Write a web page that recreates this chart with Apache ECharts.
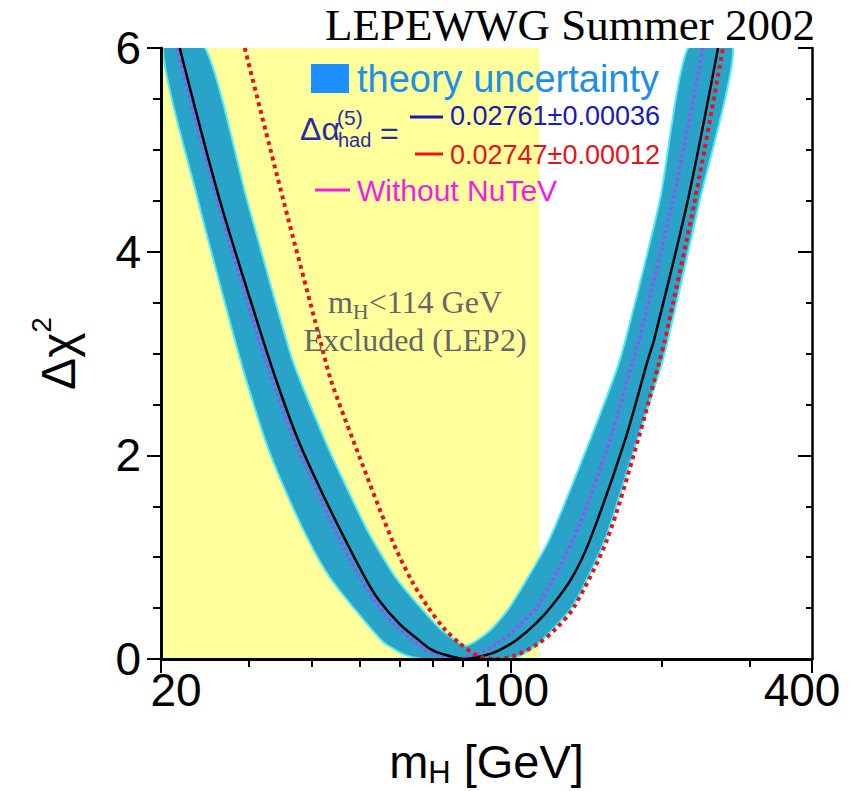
<!DOCTYPE html>
<html>
<head>
<meta charset="utf-8">
<title>LEPEWWG Summer 2002 - Δχ² vs mH</title>
<script src="https://cdn.jsdelivr.net/npm/echarts@6/dist/echarts.min.js"></script>
<style>
  html, body { margin: 0; padding: 0; background: #fff; }
  #chart { width: 863px; height: 791px; }
</style>
</head>
<body>
<div id="chart"></div>
<script>
// values: mH in GeV, Δχ² dimensionless

// Δα(5)had = 0.02761±0.00036 (solid black)
const blackMass = [21.8, 26.2, 32.0, 34.7, 37.6, 40.8, 45.6, 51.4, 54.5, 59.8, 65.3, 69.0, 72.9, 81.0, 90.9, 96.0, 102.9, 112.3, 120.3, 132.6, 144.0, 169.2, 188.0, 193.3, 226.0, 259.6]
const blackChi2 = [6.0, 4.51, 3.13, 2.61, 2.15, 1.76, 1.27, 0.78, 0.58, 0.35, 0.19, 0.10, 0.05, 0.0, 0.05, 0.10, 0.19, 0.35, 0.51, 0.80, 1.17, 2.15, 2.94, 3.13, 4.51, 6.0]

// without NuTeV (dotted violet)
const nutevMass = [21.5, 25.9, 31.4, 34.1, 36.9, 40.1, 44.5, 50.2, 53.3, 58.2, 63.5, 67.1, 70.6, 77.4, 86.0, 90.1, 96.5, 104.8, 112.8, 133.2, 157.9, 175.5, 180.4, 211.0, 242.2]
const nutevChi2 = [6.0, 4.51, 3.13, 2.61, 2.15, 1.76, 1.27, 0.78, 0.58, 0.35, 0.19, 0.10, 0.05, 0.0, 0.05, 0.10, 0.19, 0.35, 0.51, 1.17, 2.15, 2.94, 3.13, 4.51, 6.0]

// Δα(5)had = 0.02747±0.00012 (dotted red)
const redMass = [29.4, 35.1, 41.6, 43.7, 48.4, 57.9, 63.2, 68.3, 73.6, 79.2, 86.0, 93.4, 101.5, 113.4, 123.2, 133.8, 155.7, 179.6, 198.7, 203.3, 233.4, 265.6]
const redChi2 = [6.0, 4.51, 3.13, 2.74, 2.15, 1.17, 0.78, 0.51, 0.30, 0.15, 0.03, 0.0, 0.03, 0.15, 0.30, 0.51, 1.17, 2.15, 2.94, 3.13, 4.51, 6.0]

// theory uncertainty band, outline in four pieces
const bandOuterLeftMass = [20.2, 23.7, 28.8, 32.3, 35.4, 39.4, 43.5, 48.4, 55.5, 61.5, 66.8]
const bandOuterLeftChi2 = [6.0, 4.51, 2.94, 2.15, 1.66, 1.17, 0.80, 0.51, 0.17, 0.04, 0.0]
const bandOuterRightMass = [97.4, 104.3, 113.4, 132.6, 154.3, 178.8, 201.5, 238.9, 278.1]
const bandOuterRightChi2 = [0.0, 0.03, 0.15, 0.51, 1.17, 2.15, 2.94, 4.51, 6.0]
const bandInnerRightMass = [226.0, 198.7, 165.3, 144.0, 119.3, 99.6, 90.9, 81.4]
const bandInnerRightChi2 = [6.0, 4.51, 2.94, 2.15, 1.17, 0.51, 0.28, 0.13]
const bandInnerLeftMass = [72.9, 65.9, 59.3, 56.6, 51.6, 46.2, 42.5, 36.6, 29.7, 24.5]
const bandInnerLeftChi2 = [0.28, 0.51, 0.78, 0.93, 1.27, 1.76, 2.15, 2.94, 4.51, 6.0]

// LEP2 direct search exclusion
const lep2Limit = 114
const massMin = 20
const massMax = 400
const chi2Max = 6

// axis ticks
const xMajorTicks = [20, 100, 400]
const xMinorTicks = [30, 40, 50, 60, 70, 80, 90, 200, 300]

const SANS = '"Liberation Sans", Arial, Helvetica, sans-serif'
const SERIF = '"Liberation Serif", "Times New Roman", serif'

const zip = (xs, ys) => xs.map((x, i) => [x, ys[i]])

const bandOutline = [
  ...zip(bandOuterLeftMass, bandOuterLeftChi2),
  ...zip(bandOuterRightMass, bandOuterRightChi2),
  ...zip(bandInnerRightMass, bandInnerRightChi2),
  ...zip(bandInnerLeftMass, bandInnerLeftChi2)
]

const chart = echarts.init(document.getElementById('chart'), null, { renderer: 'svg' })

// shared axis pieces
const logX = (extra) => Object.assign({
  type: 'log',
  logBase: 10,
  min: massMin,
  max: massMax,
  z: 10,
  splitLine: { show: false },
  minorTick: { show: false },
  axisLabel: { show: false },
  axisLine: { show: false }
}, extra)

const linY = (extra) => Object.assign({
  type: 'value',
  min: 0,
  max: chi2Max,
  z: 10,
  splitLine: { show: false },
  axisLabel: { show: false },
  axisLine: { show: false }
}, extra)

const tickFont = { fontSize: 46, fontFamily: SANS, color: '#000' }

const option = {
  animation: false,
  backgroundColor: '#fff',
  grid: {
    left: 161,
    top: 48,
    width: 651,
    height: 611,
    outerBoundsMode: 'none'
  },
  xAxis: [
    logX({
      position: 'bottom',
      axisLine: { show: true, lineStyle: { color: '#000', width: 3 } },
      axisTick: { show: true, length: 14, lineStyle: { color: '#000', width: 2 }, customValues: xMajorTicks },
      axisLabel: {
        show: true,
        customValues: xMajorTicks,
        margin: 8,
        ...tickFont,
        // end labels sit a little inside, as in the original
        formatter: v => v === massMin ? '{l|' + v + '}' : v === massMax ? '{r|' + v + '}' : '{c|' + v + '}',
        rich: {
          l: { ...tickFont, padding: [0, 0, 0, 30] },
          r: { ...tickFont, padding: [0, 20, 0, 0] },
          c: { ...tickFont }
        }
      },
      name: '{m|m}{s|H}{m| [GeV]}',
      nameLocation: 'middle',
      nameGap: 75,
      nameMoveOverlap: false,
      nameTextStyle: {
        rich: {
          m: { fontSize: 47, fontFamily: SANS, color: '#000', lineHeight: 54, verticalAlign: 'middle' },
          s: { fontSize: 31, fontFamily: SANS, color: '#000', lineHeight: 24, verticalAlign: 'bottom' }
        }
      }
    }),
    logX({
      position: 'bottom',
      axisTick: { show: true, length: 8, lineStyle: { color: '#000', width: 2 }, customValues: xMinorTicks }
    }),
    logX({
      position: 'top',
      axisLine: { show: true, lineStyle: { color: '#000', width: 2.5 } },
      axisTick: { show: true, inside: true, length: 14, lineStyle: { color: '#000', width: 2 }, customValues: xMajorTicks }
    }),
    logX({
      position: 'top',
      axisTick: { show: true, inside: true, length: 6, lineStyle: { color: '#000', width: 2 }, customValues: xMinorTicks }
    })
  ],
  yAxis: [
    linY({
      position: 'left',
      interval: 2,
      axisLine: { show: true, lineStyle: { color: '#000', width: 3 } },
      axisTick: { show: true, length: 14, lineStyle: { color: '#000', width: 2 } },
      axisLabel: { show: true, margin: 20, ...tickFont },
      name: '{d|Δχ}{p|2}',
      nameLocation: 'middle',
      nameRotate: 90,
      nameGap: 72,
      nameMoveOverlap: false,
      nameTextStyle: {
        rich: {
          d: { fontSize: 48, fontFamily: SANS, color: '#000', lineHeight: 62, verticalAlign: 'middle' },
          p: { fontSize: 28, fontFamily: SANS, color: '#000', lineHeight: 28, verticalAlign: 'top' }
        }
      }
    }),
    linY({
      position: 'left',
      interval: 0.5,
      axisTick: { show: true, length: 8, lineStyle: { color: '#000', width: 2 } }
    }),
    linY({
      position: 'right',
      interval: 2,
      axisLine: { show: true, lineStyle: { color: '#000', width: 2.5 } },
      axisTick: { show: true, inside: true, length: 14, lineStyle: { color: '#000', width: 2 } }
    }),
    linY({
      position: 'right',
      interval: 0.5,
      axisTick: { show: true, inside: true, length: 6, lineStyle: { color: '#000', width: 2 } }
    })
  ],
  series: [
    {
      // excluded region mH < 114 GeV
      name: 'LEP2 excluded',
      type: 'line',
      data: [[massMin, chi2Max], [lep2Limit, chi2Max]],
      symbol: 'none',
      lineStyle: { width: 0 },
      areaStyle: { color: '#ffff9c', opacity: 1 },
      z: 1,
      silent: true
    },
    {
      name: 'theory uncertainty',
      type: 'custom',
      clip: true,
      z: 2,
      data: [bandOutline[0]],
      renderItem: (params, api) => ({
        type: 'polygon',
        shape: { points: bandOutline.map(p => api.coord(p)), smooth: 0.2 },
        style: { fill: '#29a3c7', stroke: '#55eaf0', lineWidth: 2 }
      })
    },
    {
      name: 'Without NuTeV',
      type: 'line',
      data: zip(nutevMass, nutevChi2),
      symbol: 'none',
      smooth: 0.3,
      z: 3,
      lineStyle: { color: '#9d4cf7', width: 3.5, type: [3, 3] }
    },
    {
      name: '0.02761±0.00036',
      type: 'line',
      data: zip(blackMass, blackChi2),
      symbol: 'none',
      smooth: 0.3,
      z: 4,
      lineStyle: { color: '#000', width: 2.5 }
    },
    {
      name: '0.02747±0.00012',
      type: 'line',
      data: zip(redMass, redChi2),
      symbol: 'none',
      smooth: 0.3,
      z: 5,
      lineStyle: { color: '#e4141c', width: 4, type: [4, 4] }
    }
  ],
  graphic: [
    // title
    { type: 'text', x: 815, y: 25, z: 100,
      style: { text: 'LEPEWWG Summer 2002', font: '45px ' + SERIF, fill: '#000', align: 'right', verticalAlign: 'middle' } },

    // legend: theory band
    { type: 'rect', z: 100, shape: { x: 311, y: 64, width: 38, height: 29 }, style: { fill: '#1e8fff' } },
    { type: 'text', x: 357, y: 79, z: 100,
      style: { text: 'theory uncertainty', font: '38px ' + SANS, fill: '#1f8fe5', verticalAlign: 'middle' } },

    // legend: Δα(5)had
    { type: 'text', x: 300, y: 129, z: 100,
      style: { text: 'Δα', font: '32px ' + SANS, fill: '#2a2aa8', verticalAlign: 'middle' } },
    { type: 'text', x: 337, y: 117, z: 100,
      style: { text: '(5)', font: '21px ' + SANS, fill: '#2a2aa8', verticalAlign: 'middle' } },
    { type: 'text', x: 338, y: 140, z: 100,
      style: { text: 'had', font: '20px ' + SANS, fill: '#2a2aa8', verticalAlign: 'middle' } },
    { type: 'text', x: 380, y: 133, z: 100,
      style: { text: '=', font: '32px ' + SANS, fill: '#2a2aa8', verticalAlign: 'middle' } },

    { type: 'line', z: 100, shape: { x1: 410, y1: 117, x2: 443, y2: 117 }, style: { stroke: '#1a1ab8', lineWidth: 3 } },
    { type: 'text', x: 450, y: 116, z: 100,
      style: { text: '0.02761±0.00036', font: '27px ' + SANS, fill: '#1a1ab8', verticalAlign: 'middle' } },
    { type: 'line', z: 100, shape: { x1: 415, y1: 154, x2: 443, y2: 154 }, style: { stroke: '#e4141c', lineWidth: 3 } },
    { type: 'text', x: 450, y: 155, z: 100,
      style: { text: '0.02747±0.00012', font: '27px ' + SANS, fill: '#e4141c', verticalAlign: 'middle' } },

    // legend: without NuTeV
    { type: 'line', z: 100, shape: { x1: 315, y1: 190, x2: 350, y2: 190 }, style: { stroke: '#f01ee6', lineWidth: 3 } },
    { type: 'text', x: 357, y: 190, z: 100,
      style: { text: 'Without NuTeV', font: '30px ' + SANS, fill: '#f01ee6', verticalAlign: 'middle' } },

    // excluded region note
    { type: 'text', x: 415, y: 302, z: 100,
      style: {
        text: '{a|m}{s|H}{a|<114 GeV}',
        align: 'center',
        verticalAlign: 'middle',
        rich: {
          a: { fontSize: 32, fontFamily: SERIF, fill: '#666', lineHeight: 40, verticalAlign: 'middle' },
          s: { fontSize: 22, fontFamily: SERIF, fill: '#666', lineHeight: 22, verticalAlign: 'bottom' }
        }
      } },
    { type: 'text', x: 415, y: 340, z: 100,
      style: { text: 'Excluded (LEP2)', font: '32px ' + SERIF, fill: '#666', align: 'center', verticalAlign: 'middle' } }
  ]
}

chart.setOption(option)

window.addEventListener('resize', () => chart.resize())
</script>
</body>
</html>
